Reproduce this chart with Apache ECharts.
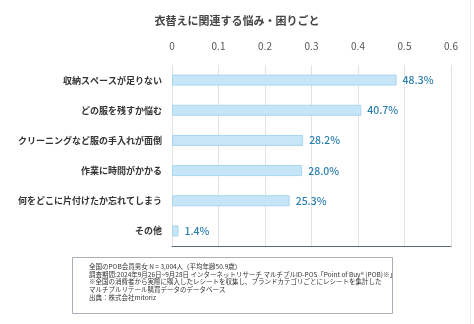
<!DOCTYPE html>
<html><head><meta charset="utf-8">
<script src="https://cdn.jsdelivr.net/npm/echarts@6/dist/echarts.min.js"></script>
<style>html,body{margin:0;padding:0;background:#fff}#c{width:474px;height:324px}</style>
</head><body><div id="c"></div>
<script>
const title = "衣替えに関連する悩み・困りごと";
const categories = ["収納スペースが足りない","どの服を残すか悩む","クリーニングなど服の手入れが面倒","作業に時間がかかる","何をどこに片付けたか忘れてしまう","その他"];
const values = [0.483, 0.407, 0.282, 0.280, 0.253, 0.014];
const xTicks = [0, 0.1, 0.2, 0.3, 0.4, 0.5, 0.6];
const notes = [
  "全国のPOB会員男女 N = 3,004人（平均年齢50.9歳）",
  "調査期間:2024年9月26日~9月28日 インターネットリサーチ マルチプルID-POS「Point of Buy® (POB)※」",
  "※全国の消費者から実際に購入したレシートを収集し、ブランドカテゴリごとにレシートを集計した",
  "マルチプルリテール購買データのデータベース",
  "出典：株式会社mitoriz"
];
const font = "'Noto Sans CJK JP', 'Noto Sans', sans-serif";
const chart = echarts.init(document.getElementById('c'));
chart.setOption({
  animation: false,
  textStyle: {fontFamily: font},
  title: {text: title, left: 232, top: 10, textAlign: 'center',
    textStyle: {fontSize: 11, fontWeight: 'bold', color: '#444', fontFamily: font}},
  grid: {left: 172, right: 23, top: 65, bottom: 78, containLabel: false, outerBoundsMode: 'none'},
  xAxis: [{
    type: 'value', position: 'top', min: 0, max: 0.6, interval: 0.1,
    axisLine: {show: false}, axisTick: {show: false},
    axisLabel: {color: '#555', fontSize: 10, margin: 14, formatter: v => String(+v.toFixed(1))},
    splitLine: {lineStyle: {color: '#e2e2e2', width: 1}}
  }, {
    type: 'value', position: 'bottom', min: 0, max: 0.6, interval: 0.1,
    axisLine: {show: true, lineStyle: {color: '#5a6b7b', width: 1.2}},
    axisTick: {show: false}, axisLabel: {show: false}, splitLine: {show: false}
  }],
  yAxis: {
    type: 'category', data: categories, inverse: true,
    axisLine: {show: false}, axisTick: {show: false},
    axisLabel: {color: '#333', fontSize: 9, fontWeight: 'bold', margin: 10}
  },
  series: [{
    type: 'bar', data: values, barWidth: 11, xAxisIndex: 0,
    itemStyle: {color: '#c6e5f6', borderColor: '#a8d6ef', borderWidth: 1},
    label: {show: true, position: 'right', distance: 6, color: '#2b7fb0', fontSize: 10.5, fontWeight: 500,
      formatter: p => (p.value * 100).toFixed(1) + '%'}
  }],
  graphic: [
    {type: 'rect', shape: {x: 72.5, y: 257.5, width: 320, height: 56},
     style: {fill: 'none', stroke: '#a9b0b8', lineWidth: 1}},
    {type: 'text', left: 89, top: 263,
     style: {text: notes.join('\n'), fontSize: 6.5, lineHeight: 7.6, fill: '#333', fontFamily: font}},
    {type: 'rect', shape: {x: 470, y: 0, width: 1, height: 324}, style: {fill: '#ececec'}}
  ]
});
</script></body></html>
